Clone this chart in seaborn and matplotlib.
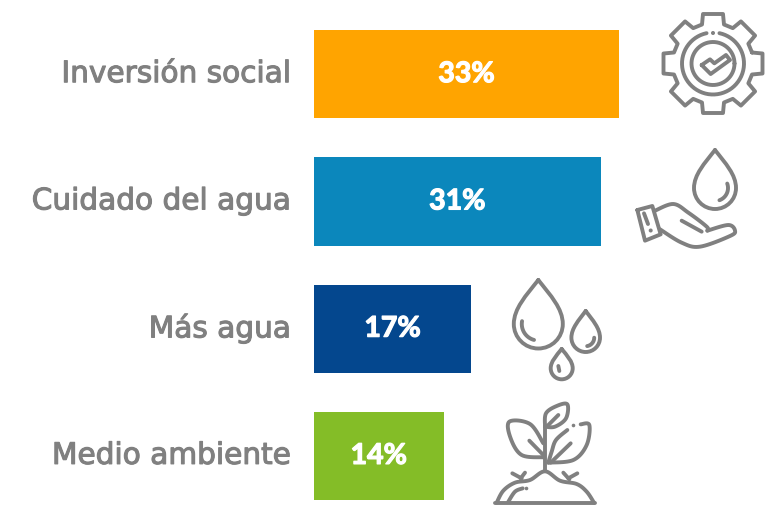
import numpy as np
import pandas as pd
import matplotlib
matplotlib.use("Agg")
import matplotlib.pyplot as plt
import matplotlib.patheffects as pe
from matplotlib.path import Path
from matplotlib.patches import PathPatch
from matplotlib.transforms import ScaledTranslation
import seaborn as sns

categories = ["Inversión social", "Cuidado del agua", "Más agua", "Medio ambiente"]
values = [33, 31, 17, 14]
colors = ["#FFA400", "#0B87BC", "#04478E", "#84BD27"]
GRAY = "#808080"

sns.set_theme(style="white")
plt.rcParams["font.family"] = ["DejaVu Sans"]

fig = plt.figure(figsize=(7.7, 5.12), dpi=100)
ax = fig.add_axes([314 / 770, 0, 456 / 770, 1])
df = pd.DataFrame({"cat": categories, "val": values})
sns.barplot(data=df, y="cat", x="val", hue="cat", palette=colors, dodge=False,
            legend=False, width=0.693, saturation=1, linewidth=0, ax=ax)
ax.set_xlim(0, 456 / 9.25)
ax.set_ylim(3.441, -0.583)
ax.set_xlabel("")
ax.set_ylabel("")
ax.set_xticks([])
ax.tick_params(axis="y", length=0, pad=16.5, labelsize=21.3, labelcolor=GRAY)
up = ScaledTranslation(0, 3.5 / 72 * 0.72, fig.dpi_scale_trans)
for t in ax.get_yticklabels():
    t.set_transform(t.get_transform() + up)
    t.set_path_effects([pe.withStroke(linewidth=0.8, foreground=GRAY)])
sns.despine(ax=ax, left=True, bottom=True)
for c in ax.containers:
    labs = ax.bar_label(c, labels=[f"{v:.0f}%" for v in c.datavalues], label_type="center",
                        color="white", fontsize=20.5, fontweight="bold", family="Lato")
    for lab in labs:
        lab.set_path_effects([pe.withStroke(linewidth=0.9, foreground="white")])

# decorative icons, in pixel space
ov = fig.add_axes([0, 0, 1, 1], zorder=5)
ov.set_xlim(0, 770)
ov.set_ylim(512, 0)
ov.axis("off")
LW = 2.8
kw = dict(fill=False, ec=GRAY, lw=LW, capstyle="round", joinstyle="round")


def smooth(pts, n=12):
    p = np.array(pts, float)
    q = np.vstack([p[0], p, p[-1]])
    out = []
    for i in range(1, len(q) - 2):
        for t in np.linspace(0, 1, n, endpoint=False):
            out.append(0.5 * (2 * q[i] + (q[i + 1] - q[i - 1]) * t
                              + (2 * q[i - 1] - 5 * q[i] + 4 * q[i + 1] - q[i + 2]) * t ** 2
                              + (3 * q[i] - q[i - 1] - 3 * q[i + 1] + q[i + 2]) * t ** 3))
    out.append(p[-1])
    return np.array(out)


def line(pts, ox, oy, curve=True):
    p = np.array(pts, float) / 3 + [ox, oy]
    if curve:
        p = smooth(p)
    ov.plot(p[:, 0], p[:, 1], color=GRAY, lw=LW, solid_capstyle="round", solid_joinstyle="round")


def dot(x, y, r=2.0):
    ov.add_patch(plt.Circle((x, y), r, color=GRAY, lw=0))


def drop(cx, tip, cy, r):
    h = cy - tip
    k = 0.5523 * r
    verts = [(cx, tip), (cx + 0.5 * r, tip + 0.35 * h), (cx + r, cy - 0.35 * h), (cx + r, cy),
             (cx + r, cy + k), (cx + k, cy + r), (cx, cy + r),
             (cx - k, cy + r), (cx - r, cy + k), (cx - r, cy),
             (cx - r, cy - 0.35 * h), (cx - 0.5 * r, tip + 0.35 * h), (cx, tip)]
    codes = [Path.MOVETO] + [Path.CURVE4] * 12
    ov.add_patch(PathPatch(Path(verts, codes), **kw))


def arc(cx, cy, r, a0, a1):
    a = np.radians(np.linspace(a0, a1, 60))
    ov.plot(cx + r * np.cos(a), cy + r * np.sin(a), color=GRAY, lw=LW, solid_capstyle="round")


# gear
gx, gy = 713, 63.5
pts = []
for i in range(8):
    a = np.radians(i * 45 + 0.0)
    d = np.array([np.cos(a), np.sin(a)])
    n = np.array([-d[1], d[0]])
    c = np.array([gx, gy])
    pts += [c + d * 39 - n * 11, c + d * 49.5 - n * 10, c + d * 49.5 + n * 10, c + d * 39 + n * 11]
pts.append(pts[0])
pts = np.array(pts)
ov.plot(pts[:, 0], pts[:, 1], color=GRAY, lw=LW, solid_joinstyle="round")
arc(gx, gy, 31, -78, 258)
arc(gx, gy, 21.5, 0, 360)
dot(gx, gy - 30.5)
line([(245, 195), (270, 178), (283, 190), (318, 165), (330, 180), (272, 222), (245, 195)], 620, 0, curve=False)

# water drop over hand
drop(715, 150, 188, 21)
arc(715, 188, 13, -20, 70)
line([(52, 630), (97, 618), (122, 703), (75, 722), (52, 630)], 620, 0, curve=False)
line([(72, 640), (84, 672)], 620, 0, curve=False)
dot(650.7, 230.5)
line([(105, 632), (160, 612), (205, 638), (260, 680), (262, 692)], 620, 0)
line([(262, 692), (325, 675), (345, 692), (330, 708), (240, 740), (185, 728), (120, 688)], 620, 0)
line([(185, 662), (245, 695)], 620, 0, curve=False)

# three drops
drop(538.3, 280, 324, 24.5)
arc(538.3, 324, 16.5, 105, 190)
drop(585.7, 311, 337.7, 14.3)
arc(585.7, 337.7, 8.5, 0, 80)
drop(561.7, 349, 368.3, 11)
line([(235, 288), (238, 303)], 480, 270, curve=False)

# plant
ox, oy = 480, 270
line([(45, 700), (345, 700)], ox, oy, curve=False)
line([(50, 698), (70, 662), (105, 638), (150, 630), (195, 604), (240, 632), (290, 642), (320, 665), (342, 698)], ox, oy)
line([(85, 695), (105, 665), (128, 655)], ox, oy)
dot(526.5, 488.5, 1.8)
line([(195, 600), (195, 470)], ox, oy, curve=False)
line([(195, 470), (198, 430), (230, 408), (262, 403), (258, 445), (225, 470), (195, 470)], ox, oy)
line([(205, 465), (235, 435)], ox, oy, curve=False)
line([(190, 562), (125, 555), (92, 505), (88, 455), (150, 462), (190, 520)], ox, oy)
line([(148, 512), (190, 555)], ox, oy, curve=False)
line([(205, 578), (280, 570), (320, 525), (328, 465), (302, 463)], ox, oy)
line([(262, 480), (228, 510), (215, 545), (205, 578)], ox, oy)
line([(272, 520), (212, 578)], ox, oy, curve=False)
dot(573.5, 425.5, 1.8)
line([(97, 610), (125, 625)], ox, oy, curve=False)
line([(135, 608), (122, 625)], ox, oy, curve=False)
line([(292, 610), (265, 625)], ox, oy, curve=False)
line([(250, 608), (268, 628)], ox, oy, curve=False)

fig.savefig("out.png", dpi=100)
